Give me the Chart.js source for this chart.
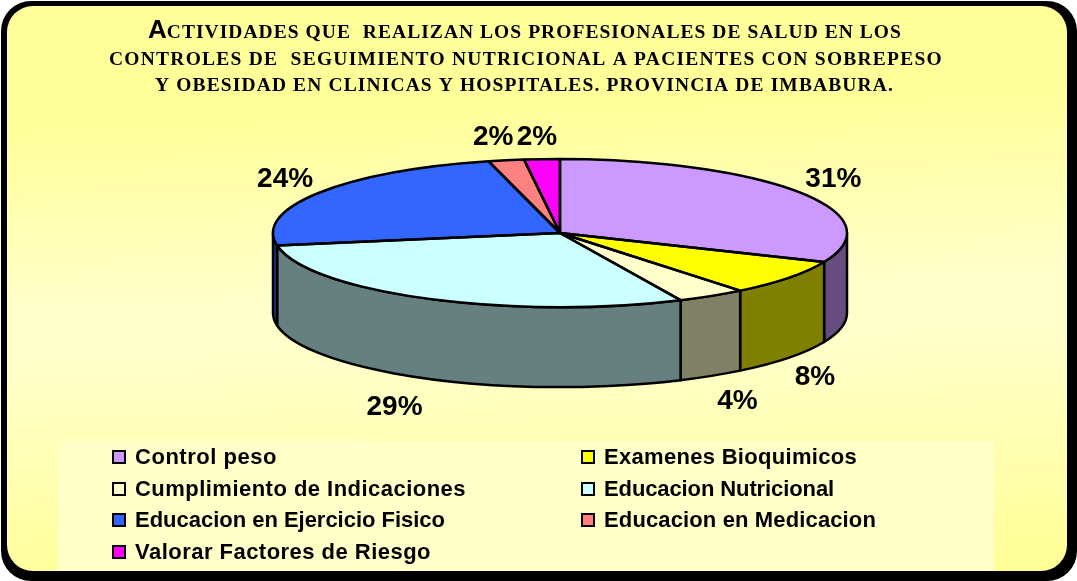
<!DOCTYPE html>
<html><head><meta charset="utf-8">
<style>html,body{margin:0;padding:0;background:#fff}canvas{display:block}</style>
<script src="https://cdn.jsdelivr.net/npm/chart.js@4"></script></head>
<body><canvas id="c" width="1077" height="581"></canvas>
<script>
const titleLines = ["CTIVIDADES QUE  REALIZAN LOS PROFESIONALES DE SALUD EN LOS",
  "CONTROLES DE  SEGUIMIENTO NUTRICIONAL A PACIENTES CON SOBREPESO",
  "Y OBESIDAD EN CLINICAS Y HOSPITALES. PROVINCIA DE IMBABURA."];
const titleInitial = "A";
const categories = ["Control peso","Examenes Bioquimicos","Cumplimiento de Indicaciones","Educacion Nutricional","Educacion en Ejercicio Fisico","Educacion en Medicacion","Valorar Factores de Riesgo"];
const values = [31.4,7.8,3.9,29.2,23.7,2,2];
const colours = ["#CC99FF","#FFFF00","#FFFFCC","#CCFFFF","#3366FF","#FF8080","#FF00FF"];
const wallColours = ["#664D80","#808000","#808066","#668080","#1A3380","#804040","#800080"];

const PIE = {cx:560, cy:233, rx:287, ry:74, depth:80};
const LABEL_NUDGE = [[34,-13],[26,20],[26,25],[-32,29],[-34,-13],[-13,-23],[-5,-22]];
const TITLE_BOX = [{l:148,r:902,y:38},{l:109,r:943,y:65},{l:155,r:894,y:91}];
const LEGEND_COLS = [113,582], LEGEND_ROWS = [457,489,520,552];
const LEGEND_TEXT_WIDTH = [142,253,331,230,310,272,296];

function panel(ctx){
  ctx.save();
  ctx.fillStyle="#fff"; ctx.fillRect(0,0,1077,581);
  ctx.fillStyle="#000"; ctx.beginPath(); ctx.roundRect(1,1,1076,580,30); ctx.fill();
  ctx.beginPath(); ctx.roundRect(7,6,1060,565,26);
  const g=ctx.createLinearGradient(525,6,545,571);
  g.addColorStop(0,"#FFFF99"); g.addColorStop(0.17,"#FFFF99"); g.addColorStop(0.52,"#FFFFCC"); g.addColorStop(0.62,"#FFFFC8"); g.addColorStop(1,"#FFFF99");
  ctx.fillStyle=g; ctx.fill();
  ctx.restore();
  ctx.fillStyle="#FFFFC8"; ctx.fillRect(58,441,936,130);
}
function drawTitle(ctx){
  ctx.save(); ctx.fillStyle="#000"; ctx.textBaseline="alphabetic"; ctx.textAlign="left";
  titleLines.forEach((t,i)=>{
    const box=TITLE_BOX[i]; let x=box.l;
    let avail=box.r-box.l;
    if(i===0){ ctx.letterSpacing="0px"; ctx.font="bold 26px 'Liberation Sans'";
      ctx.fillText(titleInitial,x,box.y); const w=ctx.measureText(titleInitial).width; x+=w; avail-=w; }
    ctx.font="bold 19.5px 'Liberation Serif'"; ctx.letterSpacing="0px";
    const sp=(avail-ctx.measureText(t).width)/t.length;
    ctx.letterSpacing=sp.toFixed(3)+"px";
    ctx.fillText(t,x,box.y);
  });
  ctx.restore();
}
function drawLegend(ctx){
  ctx.save(); ctx.textBaseline="middle"; ctx.textAlign="left";
  categories.forEach((c,i)=>{
    const x=LEGEND_COLS[i%2], y=LEGEND_ROWS[Math.floor(i/2)];
    ctx.fillStyle=colours[i]; ctx.strokeStyle="#000"; ctx.lineWidth=2;
    ctx.fillRect(x,y-6,12,12); ctx.strokeRect(x,y-6,12,12);
    ctx.font="bold 22px 'Liberation Sans'"; ctx.letterSpacing="0px";
    const sp=(LEGEND_TEXT_WIDTH[i]-ctx.measureText(c).width)/c.length;
    ctx.letterSpacing=sp.toFixed(3)+"px";
    ctx.fillStyle="#000"; ctx.fillText(c,x+22,y+1);
  });
  ctx.restore();
}
const pie3d={id:"pie3d",
  beforeDraw(chart){ const ctx=chart.ctx; panel(ctx); drawTitle(ctx); drawLegend(ctx); },
  beforeDatasetsDraw(chart){
    const ctx=chart.ctx, arcs=chart.getDatasetMeta(0).data;
    ctx.save(); ctx.lineWidth=2.5; ctx.strokeStyle="#000"; ctx.lineJoin="round";
    arcs.forEach((a,i)=>{
      const s=Math.max(a.startAngle,0), e=Math.min(a.endAngle,Math.PI);
      if(e<=s) return;
      ctx.beginPath();
      ctx.ellipse(PIE.cx,PIE.cy,PIE.rx,PIE.ry,0,s,e);
      ctx.ellipse(PIE.cx,PIE.cy+PIE.depth,PIE.rx,PIE.ry,0,e,s,true);
      ctx.closePath(); ctx.fillStyle=wallColours[i]; ctx.fill(); ctx.stroke();
    });
    ctx.restore();
    const a0=arcs[0];
    ctx.save();
    ctx.translate(PIE.cx,PIE.cy); ctx.scale(1,PIE.ry/PIE.rx); ctx.translate(-a0.x,-a0.y);
  },
  afterDatasetsDraw(chart){
    const ctx=chart.ctx, arcs=chart.getDatasetMeta(0).data;
    ctx.restore();
    ctx.save(); ctx.lineWidth=2.5; ctx.strokeStyle="#000"; ctx.lineJoin="round";
    arcs.forEach(a=>{
      ctx.beginPath(); ctx.moveTo(PIE.cx,PIE.cy);
      ctx.ellipse(PIE.cx,PIE.cy,PIE.rx,PIE.ry,0,a.startAngle,a.endAngle);
      ctx.closePath(); ctx.stroke();
    });
    ctx.font="bold 28px 'Liberation Sans'"; ctx.fillStyle="#000"; ctx.textAlign="center"; ctx.textBaseline="middle";
    const total=values.reduce((p,v)=>p+v,0);
    arcs.forEach((a,i)=>{
      const m=(a.startAngle+a.endAngle)/2, front=Math.sin(m)>0;
      const x=PIE.cx+PIE.rx*Math.cos(m)+LABEL_NUDGE[i][0];
      const y=PIE.cy+PIE.ry*Math.sin(m)+(front?PIE.depth:0)+LABEL_NUDGE[i][1];
      ctx.fillText(Math.round(values[i]/total*100)+"%",x,y);
    });
    ctx.restore();
  }
};
new Chart(document.getElementById("c"),{
  type:"pie",
  data:{labels:categories,datasets:[{data:values,backgroundColor:colours,borderWidth:0,radius:PIE.rx,clip:false}]},
  options:{responsive:false,animation:false,events:[],
    layout:{padding:0},
    plugins:{legend:{display:false},tooltip:{enabled:false},title:{display:false}}},
  plugins:[pie3d]
});
</script></body></html>
